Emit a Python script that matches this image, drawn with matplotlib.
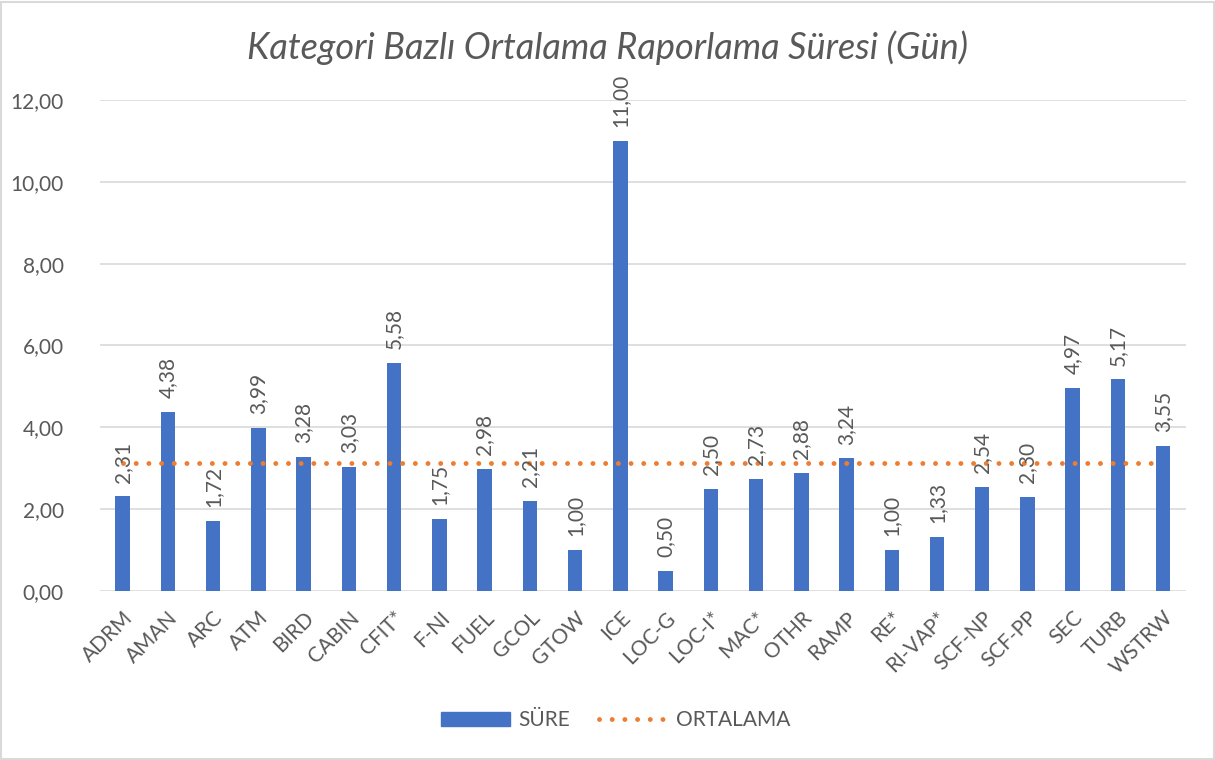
import matplotlib.pyplot as plt
from matplotlib.patches import Rectangle
from matplotlib.lines import Line2D

# Dati del grafico
kategoriler = ['ADRM', 'AMAN', 'ARC', 'ATM', 'BIRD', 'CABIN', 'CFIT*', 'F-NI', 'FUEL', 'GCOL',
               'GTOW', 'ICE', 'LOC-G', 'LOC-I*', 'MAC*', 'OTHR', 'RAMP', 'RE*', 'RI-VAP*',
               'SCF-NP', 'SCF-PP', 'SEC', 'TURB', 'WSTRW']
sure = [2.31, 4.38, 1.72, 3.99, 3.28, 3.03, 5.58, 1.75, 2.98, 2.21,
        1.00, 11.00, 0.50, 2.50, 2.73, 2.88, 3.24, 1.00, 1.33,
        2.54, 2.30, 4.97, 5.17, 3.55]
ortalama = 3.12
y_ticks = [0, 2, 4, 6, 8, 10, 12]

plt.rcParams['font.family'] = ['Lato', 'DejaVu Sans']
grigio = '#595959'
blu = '#4472C4'
arancio = '#ED7D31'
fs = 15

fig = plt.figure(figsize=(12.15, 7.6), dpi=100)
ax = fig.add_axes([0.0823, 0.2224, 0.8937, 0.646])

x = list(range(len(kategoriler)))
ax.bar(x, sure, width=0.32, color=blu, zorder=3)
ax.plot([x[0], x[-1]], [ortalama, ortalama], color=arancio, lw=3.5,
        linestyle=(0, (0.01, 2.6)), dash_capstyle='round', zorder=4)

# Etichette dei valori
for xi, v in zip(x, sure):
    ax.annotate(f'{v:.2f}'.replace('.', ','), (xi, v), xytext=(0, 10),
                textcoords='offset points', rotation=90, ha='center', va='bottom',
                fontsize=fs, color=grigio, zorder=5)

ax.set_xlim(-0.5, len(kategoriler) - 0.5)
ax.set_ylim(0, 12)
ax.set_yticks(y_ticks)
ax.set_yticklabels([f'{t:.2f}'.replace('.', ',') for t in y_ticks], fontsize=fs, color=grigio)
ax.set_xticks(x)
ax.set_xticklabels(kategoriler, rotation=45, ha='right', rotation_mode='anchor',
                   fontsize=fs, color=grigio)
ax.tick_params(axis='x', length=0, pad=12)
ax.tick_params(axis='y', length=0, pad=26)
ax.grid(axis='y', color='#D9D9D9', lw=1.2, zorder=0)
for s in ax.spines.values():
    s.set_visible(False)

fig.text(0.5, 0.937, 'Kategori Bazlı Ortalama Raporlama Süresi (Gün)', ha='center', va='center',
         fontsize=26, style='italic', color=grigio)

handles = [Rectangle((0, 0), 1, 1, color=blu),
           Line2D([0], [0], color=arancio, lw=3.5, linestyle=(0, (0.01, 2.6)),
                  dash_capstyle='round')]
fig.legend(handles, ['SÜRE', 'ORTALAMA'], loc='center', bbox_to_anchor=(0.507, 0.052),
           ncol=2, frameon=False, fontsize=fs, labelcolor=grigio, handlelength=3.3,
           handleheight=0.7, columnspacing=1.4, handletextpad=0.4)

fig.add_artist(Rectangle((0.001, 0.001), 0.998, 0.997, transform=fig.transFigure,
                         fill=False, edgecolor='#D9D9D9', lw=1.5))

fig.savefig('out.png', dpi=100)
